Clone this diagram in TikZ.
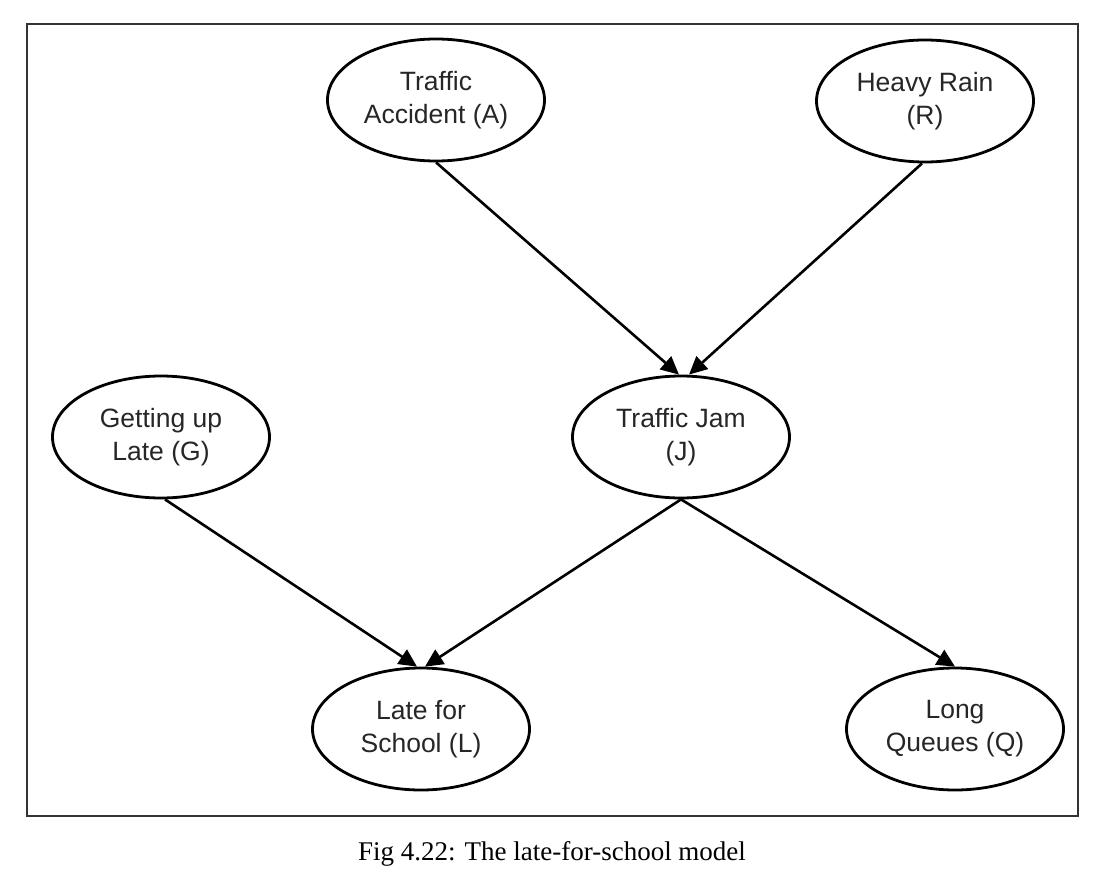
\documentclass[tikz,border=0pt]{standalone}
\usepackage{fontspec}
\newfontfamily\nodefont{Liberation Sans}
\newfontfamily\capfont{Liberation Serif}
\usetikzlibrary{shapes.geometric,arrows.meta}
\begin{document}
\begin{tikzpicture}[x=1pt,y=-1pt,
  var/.style={ellipse,draw=black,line width=2.8pt,minimum width=217pt,minimum height=122pt,inner sep=0pt,
    align=center,font=\nodefont\fontsize{26.5}{33}\selectfont,text=black!85},
  edge/.style={line width=2.6pt,-{Triangle[length=18pt,width=17pt]}},
  frame/.style={draw=black!80,line width=2.2pt}]
\useasboundingbox (0,0) rectangle (1102,888);
\draw[frame] (27,24) rectangle (1078,816);
\node[var] (A) at (436,100) {Traffic\\Accident (A)};
\node[var] (R) at (925,101) {Heavy Rain\\(R)};
\node[var] (G) at (161,437) {Getting up\\Late (G)};
\node[var] (J) at (681,437) {Traffic Jam\\(J)};
\node[var] (L) at (421,729) {Late for\\School (L)};
\node[var] (Q) at (955,729) {Long\\Queues (Q)};
\draw[edge] (A.south) -- ([xshift=-2pt]J.north);
\draw[edge] ([xshift=-3pt]R.south) -- ([xshift=8pt]J.north);
\draw[edge] ([xshift=4pt]G.south) -- ([xshift=-4pt]L.north);
\draw[edge] (J.south) -- ([xshift=4pt]L.north);
\draw[edge] (J.south) -- (Q.north);
\node[font=\capfont\fontsize{27}{32}\selectfont,anchor=base] (cap) at (552,860) {Fig 4.22: The late-for-school model};
\end{tikzpicture}
\end{document}
